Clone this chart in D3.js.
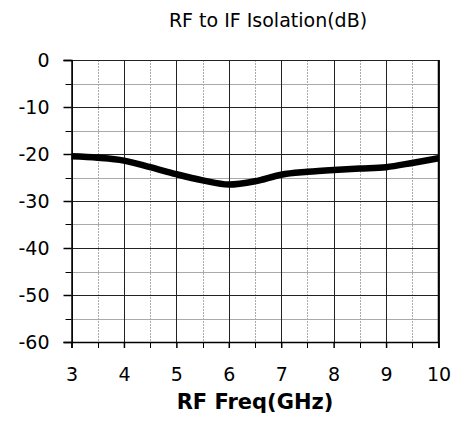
<!DOCTYPE html>
<html lang="en">
  <head>
    <meta charset="UTF-8" />
    <title>RF to IF Isolation</title>
    <script src="https://d3js.org/d3.v7.min.js"></script>
    <style>
      body {
        margin: 0;
        background: #fff;
      }
      text {
        font-family: "DejaVu Sans", Verdana, sans-serif;
        fill: #000;
      }
    </style>
  </head>
  <body>
    <svg width="459" height="425"></svg>

    <script>
      // data
      var freq = [3, 3.5, 4, 4.5, 5, 5.5, 6, 6.5, 7, 7.5, 8, 8.5, 9, 9.5, 10];
      var isolation = [
        -20.5, -20.8, -21.4, -22.8, -24.3, -25.6, -26.5, -25.8, -24.4, -23.8,
        -23.4, -23.1, -22.8, -21.9, -20.9,
      ];
      var xTicks = [3, 4, 5, 6, 7, 8, 9, 10];
      var yTicks = [0, -10, -20, -30, -40, -50, -60];

      var svg = d3.select("svg"),
        plotLeft = 71.5,
        plotRight = 438.5,
        plotTop = 60,
        plotBottom = 342;

      var x = d3.scaleLinear().domain([3, 10]).range([plotLeft, plotRight]);
      var y = d3.scaleLinear().domain([0, -60]).range([plotTop, plotBottom]);

      var xMinor = d3.range(3.5, 10, 1);
      var yMinor = d3.range(-5, -60, -10);

      // minor grid
      svg
        .selectAll(".xminor")
        .data(xMinor)
        .enter()
        .append("line")
        .attr("x1", (d) => Math.round(x(d)) + 0.5)
        .attr("x2", (d) => Math.round(x(d)) + 0.5)
        .attr("y1", plotTop)
        .attr("y2", plotBottom)
        .attr("stroke", "#aaa")
        .attr("stroke-dasharray", "2,1");

      svg
        .selectAll(".yminor")
        .data(yMinor)
        .enter()
        .append("line")
        .attr("x1", plotLeft)
        .attr("x2", plotRight)
        .attr("y1", (d) => Math.round(y(d)) + 0.5)
        .attr("y2", (d) => Math.round(y(d)) + 0.5)
        .attr("stroke", "#aaa");

      // major grid
      svg
        .selectAll(".xmajor")
        .data(xTicks)
        .enter()
        .append("line")
        .attr("x1", (d) => Math.round(x(d)) + 0.5)
        .attr("x2", (d) => Math.round(x(d)) + 0.5)
        .attr("y1", plotTop)
        .attr("y2", plotBottom)
        .attr("stroke", "#222");

      svg
        .selectAll(".ymajor")
        .data(yTicks)
        .enter()
        .append("line")
        .attr("x1", plotLeft)
        .attr("x2", plotRight)
        .attr("y1", (d) => Math.round(y(d)) + 0.5)
        .attr("y2", (d) => Math.round(y(d)) + 0.5)
        .attr("stroke", "#222");

      // axes
      var yAxis = d3
        .axisLeft(y)
        .tickValues(yTicks)
        .tickSize(8)
        .tickPadding(14)
        .tickFormat((d) => String(d));
      var gy = svg
        .append("g")
        .attr("transform", "translate(" + plotLeft + ",0)")
        .call(yAxis);
      gy.select(".domain").attr("stroke-width", 1.5);
      gy.selectAll(".tick line").attr("stroke-width", 1.5);
      gy.selectAll("text")
        .style("font-size", "19px")
        .attr("dy", "0.36em");

      svg
        .selectAll(".ytickminor")
        .data(yMinor)
        .enter()
        .append("line")
        .attr("x1", plotLeft - 6)
        .attr("x2", plotLeft)
        .attr("y1", (d) => Math.round(y(d)) + 0.5)
        .attr("y2", (d) => Math.round(y(d)) + 0.5)
        .attr("stroke", "#000");

      var xAxis = d3
        .axisBottom(x)
        .tickValues(xTicks)
        .tickSize(6)
        .tickPadding(20)
        .tickFormat((d) => String(d));
      var gx = svg
        .append("g")
        .attr("transform", "translate(0," + plotBottom + ")")
        .call(xAxis);
      gx.select(".domain").attr("stroke-width", 1.5);
      gx.selectAll(".tick line").attr("stroke-width", 1.5);
      gx.selectAll("text").style("font-size", "19px");

      svg
        .selectAll(".xtickminor")
        .data(xMinor)
        .enter()
        .append("line")
        .attr("x1", (d) => Math.round(x(d)) + 0.5)
        .attr("x2", (d) => Math.round(x(d)) + 0.5)
        .attr("y1", plotBottom)
        .attr("y2", plotBottom + 6)
        .attr("stroke", "#000");

      // right border
      svg
        .append("line")
        .attr("x1", plotRight)
        .attr("x2", plotRight)
        .attr("y1", plotTop)
        .attr("y2", plotBottom)
        .attr("stroke", "#000")
        .attr("stroke-width", 1.5);

      // curve
      var line = d3
        .line()
        .x((d, i) => x(freq[i]))
        .y((d) => y(d))
        .curve(d3.curveMonotoneX);

      svg
        .append("path")
        .datum(isolation)
        .attr("d", line)
        .attr("fill", "none")
        .attr("stroke", "#000")
        .attr("stroke-width", 6.5);

      // titles
      svg
        .append("text")
        .attr("x", 268)
        .attr("y", 27)
        .attr("text-anchor", "middle")
        .style("font-size", "19px")
        .text("RF to IF Isolation(dB)");

      svg
        .append("text")
        .attr("x", (plotLeft + plotRight) / 2)
        .attr("y", 409)
        .attr("text-anchor", "middle")
        .style("font-size", "21px")
        .style("font-weight", "bold")
        .text("RF Freq(GHz)");
    </script>
  </body>
</html>
